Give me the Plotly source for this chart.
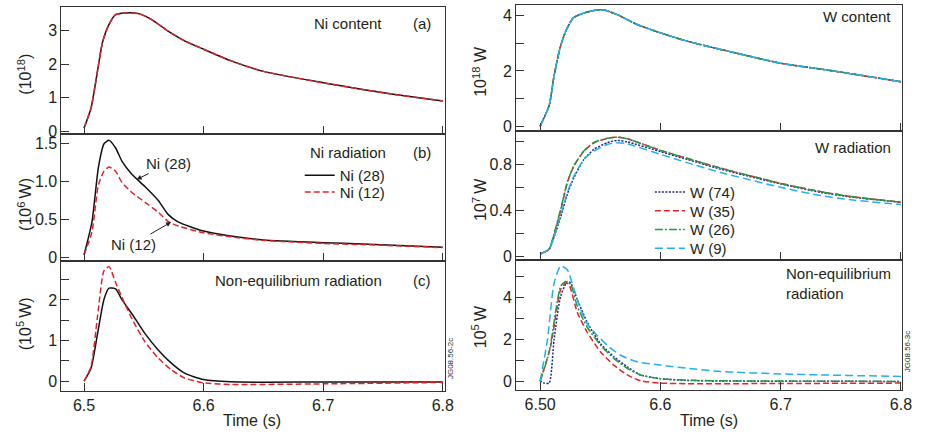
import plotly.graph_objects as go

# ---------------- data ----------------
# Left (a): Ni content (10^18)
ni_content_t = [6.5, 6.5058, 6.5113, 6.5154, 6.5209, 6.5264, 6.5346, 6.5456, 6.5566, 6.5703,
                6.5841, 6.600, 6.6225, 6.650, 6.700, 6.733, 6.760, 6.800]
ni_content_v = [0.1, 0.69, 1.81, 2.65, 3.19, 3.48, 3.53, 3.51, 3.33, 2.99,
                2.70, 2.45, 2.11, 1.79, 1.45, 1.25, 1.10, 0.91]

# Left (b): Ni radiation (10^6 W)
ni_rad_t = [6.5, 6.5066, 6.512, 6.5167, 6.5209, 6.5264, 6.5318, 6.540, 6.5511, 6.5621,
            6.5703, 6.5786, 6.600, 6.6225, 6.650, 6.700, 6.733, 6.800]
ni28_rad = [0.03, 0.46, 1.18, 1.49, 1.535, 1.435, 1.26, 1.09, 0.925, 0.744,
            0.562, 0.463, 0.342, 0.277, 0.225, 0.19, 0.173, 0.13]
ni12_rad = [0.03, 0.33, 0.95, 1.13, 1.185, 1.13, 0.98, 0.85, 0.72, 0.59,
            0.47, 0.41, 0.32, 0.268, 0.22, 0.18, 0.165, 0.125]

# Left (c): Ni non-equilibrium radiation (10^5 W)
ni_neq_t = [6.5, 6.5058, 6.5113, 6.5167, 6.5209, 6.5264, 6.5318, 6.540, 6.551, 6.562,
            6.573, 6.584, 6.600, 6.6225, 6.700, 6.800]
ni28_neq = [0.0, 0.32, 1.17, 2.02, 2.29, 2.27, 2.0, 1.66, 1.17, 0.77,
            0.445, 0.2, 0.04, -0.016, -0.02, -0.02]
ni12_neq = [0.0, 0.36, 1.6, 2.72, 2.82, 2.43, 2.06, 1.54, 0.97, 0.57,
            0.28, 0.08, -0.04, -0.08, -0.065, -0.03]

# Right (a): W content (10^18 W)
w_content_t = [6.5, 6.5075, 6.5116, 6.5166, 6.5213, 6.5276, 6.5365, 6.5475, 6.553, 6.564,
               6.5807, 6.600, 6.622, 6.650, 6.700, 6.733, 6.760, 6.800]
w_content_v = [0.0, 0.75, 1.83, 2.84, 3.44, 3.92, 4.10, 4.21, 4.21, 4.04,
               3.68, 3.38, 3.08, 2.78, 2.28, 2.07, 1.89, 1.61]

# Right (b): W radiation (10^7 W)
w_rad_t = [6.5, 6.5075, 6.5116, 6.5171, 6.5227, 6.5282, 6.5365, 6.5448, 6.5558, 6.564,
           6.5724, 6.600, 6.622, 6.650, 6.700, 6.733, 6.760, 6.800]
w74_rad = [0.023, 0.063, 0.17, 0.343, 0.543, 0.686, 0.843, 0.929, 0.986, 1.006,
           0.994, 0.909, 0.843, 0.757, 0.629, 0.557, 0.514, 0.471]
w35_rad = [0.023, 0.065, 0.19, 0.40, 0.643, 0.786, 0.914, 0.986, 1.023, 1.034,
           1.02, 0.92, 0.851, 0.766, 0.634, 0.563, 0.518, 0.471]
w26_rad = [0.023, 0.068, 0.20, 0.41, 0.65, 0.79, 0.916, 0.988, 1.024, 1.034,
           1.02, 0.92, 0.851, 0.766, 0.634, 0.563, 0.518, 0.471]
w9_rad = [0.023, 0.063, 0.17, 0.357, 0.557, 0.70, 0.843, 0.914, 0.971, 0.986,
          0.977, 0.886, 0.814, 0.729, 0.60, 0.529, 0.49, 0.451]

# Right (c): W non-equilibrium radiation (10^5 W)
w9_neq_t = [6.5, 6.5061, 6.5116, 6.5171, 6.5227, 6.5282, 6.5337, 6.5392, 6.5475, 6.5558,
            6.5669, 6.5807, 6.600, 6.622, 6.650, 6.700, 6.733, 6.800]
w9_neq = [0.0, 2.0, 4.7, 5.52, 5.33, 4.39, 3.45, 2.75, 2.2, 1.73,
          1.25, 0.94, 0.78, 0.63, 0.47, 0.36, 0.31, 0.24]
w26_neq_t = [6.5, 6.5075, 6.5171, 6.5213, 6.5254, 6.5309, 6.5392, 6.5503, 6.5613, 6.5724,
             6.5834, 6.600, 6.622, 6.650, 6.800]
w26_neq = [0.0, 1.4, 4.55, 4.78, 4.63, 3.6, 2.59, 1.73, 1.1, 0.63,
           0.31, 0.13, 0.06, 0.03, 0.0]
w35_neq_t = [6.5, 6.5088, 6.5171, 6.5213, 6.524, 6.5309, 6.5392, 6.5503, 6.5613, 6.5724,
             6.5834, 6.600, 6.622, 6.700, 6.800]
w35_neq = [0.0, 1.7, 4.4, 4.7, 4.63, 3.3, 2.35, 1.41, 0.78, 0.31,
           0.03, -0.08, -0.11, -0.1, -0.08]
w74_neq_t = [6.5, 6.5033, 6.5075, 6.5116, 6.5171, 6.5227, 6.5254, 6.5309, 6.5392, 6.5503,
             6.5613, 6.5724, 6.5834, 6.600, 6.622, 6.650, 6.800]
w74_neq = [0.03, -0.08, -0.08, 2.0, 4.08, 4.78, 4.7, 3.92, 2.82, 1.8,
           1.18, 0.7, 0.31, 0.13, 0.05, 0.02, 0.0]

x_tickvals = [6.5, 6.6, 6.7, 6.8]
left_x_ticktext = ["6.5", "6.6", "6.7", "6.8"]
right_x_ticktext = ["6.50", "6.6", "6.7", "6.8"]

# ---------------- styles ----------------
FONT = "Liberation Sans, Arial, sans-serif"
TXT = "#231f20"
BLACK = "#111111"
RED = "#e8202a"
GREEN = "#1f9a48"
NAVY = "#23239b"
LBLUE = "#1fb2ee"
W = 926
H = 437

fig = go.Figure()


def line(x, y, ax, color, dash="solid", name=None, legend=None, width=1.5):
    fig.add_trace(go.Scatter(
        x=x, y=y, mode="lines", xaxis="x" + ax, yaxis="y" + ax,
        line=dict(color=color, dash=dash, width=width, shape="spline", smoothing=0.6),
        name=name, showlegend=legend is not None, legend=legend, hoverinfo="skip"))


RD = "6px,3px"
LBD = "8px,4px"
DOT = "2px,1.5px"
DD = "8px,2px,2px,2px"

# left (a)
line(ni_content_t, ni_content_v, "", BLACK)
line(ni_content_t, ni_content_v, "", RED, RD)
# left (b)
line(ni_rad_t, ni28_rad, "2", BLACK, name="Ni (28)", legend="legend")
line(ni_rad_t, ni12_rad, "2", RED, RD, name="Ni (12)", legend="legend2")
# left (c)
line(ni_neq_t, ni28_neq, "3", BLACK)
line(ni_neq_t, ni12_neq, "3", RED, RD)
# right (a)
line(w_content_t, w_content_v, "4", NAVY, DOT)
line(w_content_t, w_content_v, "4", RED, RD)
line(w_content_t, w_content_v, "4", GREEN, DD)
line(w_content_t, w_content_v, "4", LBLUE, LBD)
# right (b)
line(w_rad_t, w74_rad, "5", NAVY, DOT, "W (74)", "legend3")
line(w_rad_t, w35_rad, "5", RED, RD, "W (35)", "legend4")
line(w_rad_t, w26_rad, "5", GREEN, DD, "W (26)", "legend5")
line(w_rad_t, w9_rad, "5", LBLUE, LBD, "W (9)", "legend6")
# right (c)
line(w74_neq_t, w74_neq, "6", NAVY, DOT)
line(w35_neq_t, w35_neq, "6", RED, RD)
line(w26_neq_t, w26_neq, "6", GREEN, DD)
line(w9_neq_t, w9_neq, "6", LBLUE, LBD)

# ---------------- axes ----------------
LX = [62 / W, 450 / W]
RX = [521.7 / W, 912 / W]


def ydom(top, bot):
    return [1 - bot / H, 1 - top / H]


common = dict(showline=True, linecolor="#333333", linewidth=1, mirror=True,
              ticks="inside", ticklen=8, tickcolor="#333333", tickwidth=1,
              showgrid=False, zeroline=False,
              tickfont=dict(family=FONT, size=16, color=TXT))

xaxes = {
    "xaxis": dict(domain=LX, anchor="y", range=[6.481, 6.802], showticklabels=False),
    "xaxis2": dict(domain=LX, anchor="y2", range=[6.481, 6.802], showticklabels=False),
    "xaxis3": dict(domain=LX, anchor="y3", range=[6.481, 6.802], ticktext=left_x_ticktext),
    "xaxis4": dict(domain=RX, anchor="y4", range=[6.48, 6.801], showticklabels=False),
    "xaxis5": dict(domain=RX, anchor="y5", range=[6.48, 6.801], showticklabels=False),
    "xaxis6": dict(domain=RX, anchor="y6", range=[6.48, 6.801], ticktext=right_x_ticktext),
}
for k, v in xaxes.items():
    v.update(common)
    v["tickvals"] = x_tickvals
    v["tickmode"] = "array"
    if "ticktext" not in v:
        v["ticktext"] = left_x_ticktext
    fig.layout[k] = v

minor = lambda d: dict(dtick=d, ticks="inside", ticklen=8, tickcolor="#333333", showgrid=False)

yaxes = {
    "yaxis": dict(domain=ydom(7, 136), anchor="x", range=[-0.08, 3.71],
                  tickvals=[0, 1, 2, 3], ticktext=["0", "1", "2", "3"]),
    "yaxis2": dict(domain=ydom(136, 265), anchor="x2", range=[-0.056, 1.617],
                   tickvals=[0, 0.5, 1.0, 1.5], ticktext=["0", "0.5", "1.0", "1.5"]),
    "yaxis3": dict(domain=ydom(265, 396), anchor="x3", range=[-0.23, 2.95],
                   tickvals=[0, 1, 2], ticktext=["0", "1", "2"], minor=minor(0.5)),
    "yaxis4": dict(domain=ydom(5, 133), anchor="x4", range=[-0.18, 4.39],
                   tickvals=[0, 2, 4], ticktext=["0", "2", "4"], minor=minor(1)),
    "yaxis5": dict(domain=ydom(133, 263.5), anchor="x5", range=[-0.028, 1.086],
                   tickvals=[0, 0.4, 0.8], ticktext=["0", "0.4", "0.8"], minor=minor(0.2)),
    "yaxis6": dict(domain=ydom(263.5, 395), anchor="x6", range=[-0.39, 5.81],
                   tickvals=[0, 2, 4], ticktext=["0", "2", "4"], minor=minor(1)),
}
for k, v in yaxes.items():
    v.update(common)
    v["tickmode"] = "array"
    fig.layout[k] = v

# ---------------- annotations ----------------
ann = []
tf = dict(family=FONT, size=15, color=TXT)


def ptext(text, xpx, ypx, xanchor="center", angle=0, size=15, align="left"):
    ann.append(dict(text=text, x=xpx / W, y=1 - ypx / H, xref="paper", yref="paper",
                    xanchor=xanchor, yanchor="middle", showarrow=False, textangle=angle,
                    font=dict(family=FONT, size=size, color=TXT), align=align))


# y titles
ptext("(10<sup>18</sup>)", 25, 75, angle=-90, size=16)
ptext("(10<sup>6 </sup>W)", 25, 207, angle=-90, size=16)
ptext("(10<sup>5 </sup>W)", 25, 328, angle=-90, size=16)
ptext("10<sup>18</sup> W", 485, 72, angle=-90, size=16)
ptext("10<sup>7 </sup>W", 485, 202, angle=-90, size=16)
ptext("10<sup>5 </sup>W", 485, 331, angle=-90, size=16)
# x titles
ptext("Time (s)", 255, 426, size=16)
ptext("Time (s)", 717, 426, size=16)
# panel labels
ptext("Ni content", 388, 24, xanchor="right")
ptext("(a)", 438, 24, xanchor="right")
ptext("Ni radiation", 311, 155, xanchor="left")
ptext("(b)", 438, 155, xanchor="right")
ptext("Non-equilibrium radiation", 388, 284, xanchor="right")
ptext("(c)", 438, 284, xanchor="right")
ptext("W content", 903, 17, xanchor="right")
ptext("W radiation", 903, 150, xanchor="right")
ptext("Non-equilibrium<br>radiation", 793, 287, xanchor="left")
# figure codes
ptext("JG08.56-2c", 455, 364, angle=-90, size=8)
ptext("JG08.56-3c", 917, 357, angle=-90, size=8)

# arrows in (b)
ann.append(dict(text="Ni (28)", x=6.544, y=1.02, xref="x2", yref="y2",
                ax=32, ay=-16, showarrow=True, arrowhead=2, arrowsize=1, arrowwidth=1,
                arrowcolor=TXT, font=tf))
ann.append(dict(text="Ni (12)", x=6.5728, y=0.46, xref="x2", yref="y2",
                ax=-38, ay=22, showarrow=True, arrowhead=2, arrowsize=1, arrowwidth=1,
                arrowcolor=TXT, font=tf))


def leg(xpx, ypx):
    return dict(x=xpx / W, y=1 - ypx / H, xanchor="left", yanchor="middle",
                font=tf, bgcolor="rgba(0,0,0,0)", itemwidth=30, tracegroupgap=0)


fig.update_layout(
    width=W, height=H, margin=dict(l=0, r=0, t=0, b=0),
    paper_bgcolor="white", plot_bgcolor="white",
    annotations=ann,
    legend=leg(303, 178),
    legend2=leg(303, 195),
    legend3=leg(657, 195),
    legend4=leg(657, 214),
    legend5=leg(657, 233),
    legend6=leg(657, 252),
)

fig.write_html("out.html")
